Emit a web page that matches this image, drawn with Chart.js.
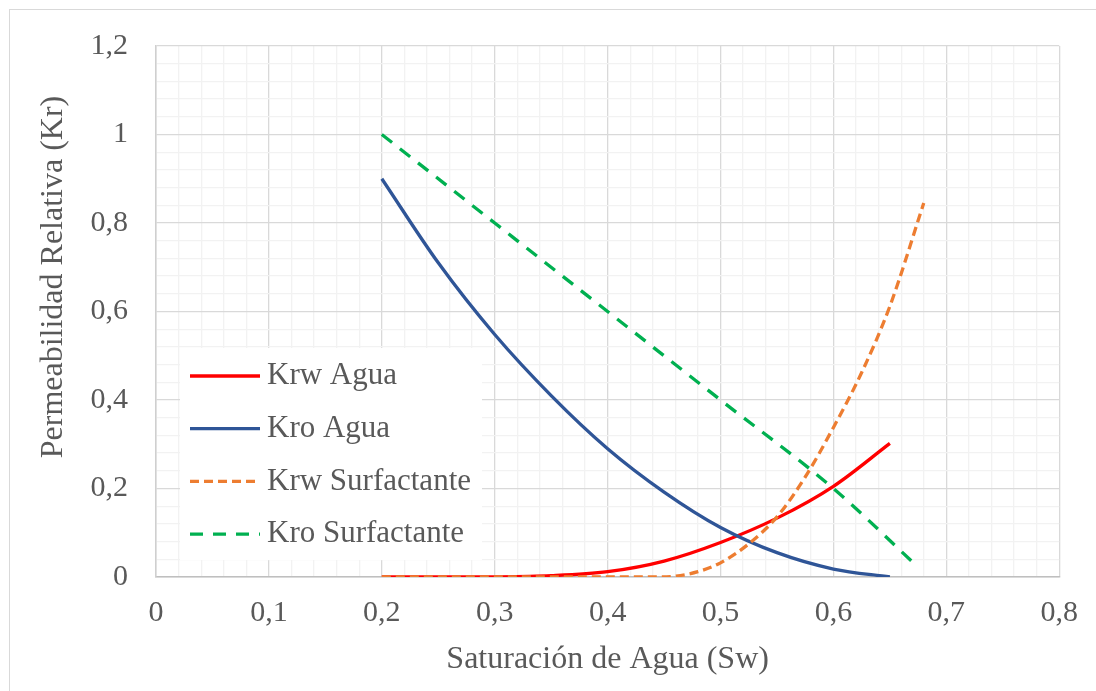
<!DOCTYPE html>
<html>
<head>
<meta charset="utf-8">
<script src="https://cdn.jsdelivr.net/npm/chart.js@4/dist/chart.umd.min.js"></script>
<style>
  html, body { margin: 0; padding: 0; background: #fff; }
</style>
</head>
<body>
<canvas id="grafico" width="1096" height="691"></canvas>
<script>
// datos
var swAgua = [0.2, 0.25, 0.3, 0.35, 0.4, 0.45, 0.5, 0.55, 0.6, 0.65];
var krwAgua = [0, 0, 0.0004, 0.003, 0.012, 0.036, 0.078, 0.133, 0.205, 0.302];
var kroAgua = [0.9, 0.71, 0.548, 0.41, 0.29, 0.192, 0.112, 0.055, 0.018, 0];

var swKrwSurf = [0.2, 0.3, 0.4, 0.44, 0.46, 0.48, 0.5, 0.525, 0.55, 0.575, 0.6, 0.625, 0.65, 0.68];
var krwSurf = [0, 0, 0, 0, 0.002, 0.012, 0.032, 0.075, 0.136, 0.226, 0.338, 0.462, 0.612, 0.845];

var swKroSurf = [0.2, 0.3, 0.4, 0.5, 0.6, 0.675];
var kroSurf = [1, 0.8, 0.6, 0.4, 0.2, 0.022];

var nombres = ['Krw Agua', 'Kro Agua', 'Krw Surfactante', 'Kro Surfactante'];
var colores = ['#FF0000', '#2F5597', '#ED7D31', '#00B050'];

// etiquetas de los ejes
var xMayores = [0, 0.1, 0.2, 0.3, 0.4, 0.5, 0.6, 0.7, 0.8];
var yMayores = [0, 0.2, 0.4, 0.6, 0.8, 1, 1.2];

var fuente = '"Liberation Serif", "Times New Roman", serif';
var gris = '#595959';

function puntos(xs, ys) {
  return xs.map(function(x, i) { return { x: x, y: ys[i] }; });
}

function esMayor(valor, mayores) {
  for (var i = 0; i < mayores.length; i++) {
    if (Math.abs(valor - mayores[i]) < 1e-6) return true;
  }
  return false;
}

function etiqueta(valor, mayores) {
  if (!esMayor(valor, mayores)) return '';
  return String(Math.round(valor * 10) / 10).replace('.', ',');
}

function colorRejilla(mayores) {
  return function(c) {
    if (!c.tick) return '#f2f2f2';
    return esMayor(c.tick.value, mayores) ? '#d9d9d9' : '#f2f2f2';
  };
}

// leyenda dentro del area, titulo del eje y y marco exterior
var extras = {
  id: 'extras',
  afterDraw: function(chart) {
    var ctx = chart.ctx;
    ctx.save();
    ctx.fillStyle = '#ffffff';
    ctx.fillRect(180, 348, 302, 212);
    ctx.font = '31px ' + fuente;
    ctx.textBaseline = 'middle';
    chart.data.datasets.forEach(function(ds, i) {
      var y = 376 + i * 52.7;
      ctx.strokeStyle = ds.borderColor;
      ctx.lineWidth = 3.3;
      ctx.setLineDash(ds.borderDash || []);
      ctx.beginPath();
      ctx.moveTo(190, y);
      ctx.lineTo(260, y);
      ctx.stroke();
      ctx.setLineDash([]);
      ctx.fillStyle = gris;
      ctx.fillText(ds.label, 267, y);
    });

    ctx.translate(54, 277);
    ctx.rotate(-Math.PI / 2);
    ctx.textAlign = 'center';
    ctx.font = '32px ' + fuente;
    ctx.fillStyle = gris;
    ctx.fillText('Permeabilidad Relativa (Kr)', 0, 0);
    ctx.setTransform(1, 0, 0, 1, 0, 0);

    ctx.strokeStyle = '#d9d9d9';
    ctx.lineWidth = 1;
    ctx.strokeRect(9.5, 9.5, 1100, 700);
    ctx.restore();
  }
};

var grafico = new Chart(document.getElementById('grafico').getContext('2d'), {
  type: 'scatter',
  data: {
    datasets: [{
      label: nombres[0],
      data: puntos(swAgua, krwAgua),
      borderColor: colores[0],
      order: 4
    }, {
      label: nombres[1],
      data: puntos(swAgua, kroAgua),
      borderColor: colores[1],
      order: 3
    }, {
      label: nombres[2],
      data: puntos(swKrwSurf, krwSurf),
      borderColor: colores[2],
      borderDash: [9, 5],
      order: 2
    }, {
      label: nombres[3],
      data: puntos(swKroSurf, kroSurf),
      borderColor: colores[3],
      borderDash: [13, 10],
      order: 1
    }]
  },
  options: {
    responsive: false,
    animation: false,
    devicePixelRatio: 1,
    showLine: true,
    layout: { padding: { left: 0, right: 35, top: 46, bottom: 0 } },
    elements: {
      point: { radius: 0, hoverRadius: 0 },
      line: { borderWidth: 3.3, fill: false, cubicInterpolationMode: 'monotone' }
    },
    plugins: {
      legend: { display: false },
      tooltip: { enabled: false }
    },
    scales: {
      x: {
        type: 'linear',
        min: 0,
        max: 0.8,
        afterFit: function(scale) { scale.height = 114; },
        grid: { color: colorRejilla(xMayores), drawTicks: false, lineWidth: 1.3 },
        border: { color: '#bfbfbf', width: 1.5 },
        ticks: {
          stepSize: 0.02,
          autoSkip: false,
          maxTicksLimit: 100,
          maxRotation: 0,
          minRotation: 0,
          padding: 18,
          color: gris,
          font: { family: fuente, size: 30 },
          callback: function(v) { return etiqueta(v, xMayores); }
        },
        title: {
          display: true,
          text: 'Saturación de Agua (Sw)',
          color: gris,
          font: { family: fuente, size: 32 },
          padding: { top: 0, bottom: 12 }
        }
      },
      y: {
        min: 0,
        max: 1.2,
        afterFit: function(scale) { scale.width = 156; },
        grid: { color: colorRejilla(yMayores), drawTicks: false, lineWidth: 1.3 },
        border: { color: '#cfcfcf', width: 1.5 },
        ticks: {
          stepSize: 0.04,
          autoSkip: false,
          maxTicksLimit: 100,
          padding: 28,
          color: gris,
          font: { family: fuente, size: 30 },
          callback: function(v) { return etiqueta(v, yMayores); }
        }
      }
    }
  },
  plugins: [extras]
});
</script>
</body>
</html>
